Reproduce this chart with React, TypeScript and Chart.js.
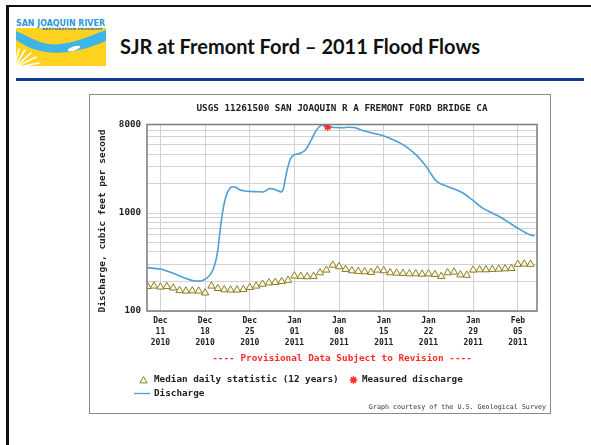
import React, { useEffect, useRef } from "react";
import { Chart, registerables } from "chart.js";

Chart.register(...registerables);

// Days are counted from Dec 11, 2010.
const xTickDays = [0, 7, 14, 21, 28, 35, 42, 49, 56];
const xTickLabels = [
  ["Dec", "11", "2010"],
  ["Dec", "18", "2010"],
  ["Dec", "25", "2010"],
  ["Jan", "01", "2011"],
  ["Jan", "08", "2011"],
  ["Jan", "15", "2011"],
  ["Jan", "22", "2011"],
  ["Jan", "29", "2011"],
  ["Feb", "05", "2011"],
];
const yGridValues = [100, 200, 300, 400, 500, 600, 700, 800, 900, 1000, 2000, 3000, 4000, 5000, 6000, 7000, 8000];
const yTickLabels = [100, 1000, 8000];

// Discharge, cubic feet per second
const dischargeDays = [
  -2.1, -1, 0, 1, 2, 3, 4, 5, 6, 6.6, 7.2, 7.8, 8.3, 8.7, 9.0, 9.3, 9.6, 9.9, 10.3, 10.8,
  11.3, 11.8, 12.4, 13.2, 14, 15, 16, 16.6, 17.1, 17.7, 18.3, 18.9, 19.3, 19.6, 20.0, 20.4,
  20.9, 21.5, 22.2, 22.9, 23.6, 24.2, 24.8, 25.4, 26.0, 26.5, 27.5, 28.5, 29.5, 30.3, 31.7,
  33, 34.9, 36.2, 37.5, 38.8, 40.1, 41, 41.7, 42.4, 43.0, 43.7, 44.5, 46, 47.4, 48.5, 49.5,
  50.5, 51.8, 53.1, 54.2, 55.2, 56.3, 57.3, 58.0, 58.6,
];
const dischargeCfs = [
  277, 272, 268, 256, 243, 228, 214, 205, 202, 205, 215, 235, 270, 330, 420, 620, 880, 1170, 1500, 1760,
  1850, 1830, 1730, 1680, 1660, 1650, 1640, 1700, 1780, 1760, 1700, 1640, 1800, 2300, 3000, 3600,
  3900, 4000, 4150, 4550, 5500, 6600, 7500, 7900, 7800, 7550, 7450, 7400, 7500, 7450, 6950,
  6600, 6150, 5700, 5200, 4600, 3900, 3350, 2950, 2500, 2200, 2020, 1920, 1760, 1600, 1420, 1260,
  1120, 1010, 920, 830, 755, 680, 625, 595, 585,
];

// Median daily statistic (12 years), one value per day
const medianDays = [
  -2, -1, 0, 1, 2, 3, 4, 5, 6, 7, 8, 9, 10, 11, 12, 13, 14, 15, 16, 17, 18, 19, 20,
  21, 22, 23, 24, 25, 26, 27, 28, 29, 30, 31, 32, 33, 34, 35, 36, 37, 38, 39, 40,
  41, 42, 43, 44, 45, 46, 47, 48, 49, 50, 51, 52, 53, 54, 55, 56, 57, 58,
];
const medianCfs = [
  178, 180, 176, 178, 172, 162, 160, 161, 160, 153, 180, 170, 165, 164, 164, 166, 174, 180, 188, 194, 196, 200, 206,
  228, 226, 224, 226, 246, 262, 294, 284, 266, 258, 254, 252, 248, 262, 258, 246, 244, 242, 240, 240,
  238, 240, 236, 226, 246, 250, 234, 232, 262, 264, 264, 266, 268, 270, 272, 300, 302, 300,
];

// Measured discharge
const measuredDays = [26.2];
const measuredCfs = [7600];

const MONO = '"DejaVu Sans Mono", "Liberation Mono", monospace';
const BLUE = "#4a9fd8";
const RED = "#ff2a2a";
const TRI_FILL = "#fffbe0";
const TRI_EDGE = "#8c7b2e";
const TRI_R = 4.2;

const graphTextPlugin = {
  id: "graphText",
  afterDraw(chart: any) {
    const { ctx, chartArea } = chart;
    ctx.save();
    // plot frame
    ctx.strokeStyle = "#7a7a7a";
    ctx.lineWidth = 1.5;
    ctx.strokeRect(chartArea.left, chartArea.top, chartArea.right - chartArea.left, chartArea.bottom - chartArea.top);

    const midX = (chartArea.left + chartArea.right) / 2;
    ctx.textBaseline = "middle";
    ctx.fillStyle = "#222";

    // heading
    ctx.font = `bold 9.3px ${MONO}`;
    ctx.textAlign = "center";
    ctx.fillText("USGS 11261500 SAN JOAQUIN R A FREMONT FORD BRIDGE CA", midX, 15);

    // y axis title
    ctx.save();
    ctx.translate(14, 127);
    ctx.rotate(-Math.PI / 2);
    ctx.font = `bold 9.5px ${MONO}`;
    ctx.fillText("Discharge, cubic feet per second", 0, 0);
    ctx.restore();

    // provisional note
    ctx.fillStyle = RED;
    ctx.font = `bold 9.4px ${MONO}`;
    ctx.fillText("---- Provisional Data Subject to Revision ----", midX, 264.5);

    // legend
    ctx.textAlign = "left";
    const ly1 = 286;
    const ly2 = 299.5;
    ctx.beginPath();
    const tx = 54.5;
    const ty = ly1 + 0.8;
    ctx.moveTo(tx, ty - TRI_R);
    ctx.lineTo(tx + TRI_R * 0.866, ty + TRI_R / 2);
    ctx.lineTo(tx - TRI_R * 0.866, ty + TRI_R / 2);
    ctx.closePath();
    ctx.fillStyle = TRI_FILL;
    ctx.fill();
    ctx.strokeStyle = TRI_EDGE;
    ctx.lineWidth = 1;
    ctx.stroke();

    ctx.fillStyle = "#222";
    ctx.font = `bold 9.3px ${MONO}`;
    ctx.fillText("Median daily statistic (12 years)", 65, ly1);

    // asterisk
    const ax = 264.5;
    ctx.strokeStyle = RED;
    ctx.lineWidth = 1.6;
    ctx.beginPath();
    for (let k = 0; k < 4; k++) {
      const a = (k * Math.PI) / 4;
      ctx.moveTo(ax - Math.cos(a) * 3.8, ly1 - Math.sin(a) * 3.8);
      ctx.lineTo(ax + Math.cos(a) * 3.8, ly1 + Math.sin(a) * 3.8);
    }
    ctx.stroke();
    ctx.fillStyle = "#222";
    ctx.fillText("Measured discharge", 273, ly1);

    ctx.strokeStyle = BLUE;
    ctx.lineWidth = 1.3;
    ctx.beginPath();
    ctx.moveTo(45, ly2);
    ctx.lineTo(61, ly2);
    ctx.stroke();
    ctx.fillText("Discharge", 65, ly2);

    // credit line
    ctx.textAlign = "right";
    ctx.fillStyle = "#333";
    ctx.font = `6.7px ${MONO}`;
    ctx.fillText("Graph courtesy of the U.S. Geological Survey", 457, 313);
    ctx.restore();
  },
};

function Logo() {
  return (
    <svg
      style={{ position: "absolute", left: 16, top: 18 }}
      width={90}
      height={48}
      viewBox="0 0 90 48"
    >
      <rect x={0} y={0} width={90} height={48} fill="#fff" />
      <rect x={0} y={10} width={90} height={38} fill="#ffd21f" />
      <text
        x={0}
        y={7.6}
        fontSize={8.6}
        fontWeight={900}
        fill="#2c96d8"
        fontFamily='"DejaVu Sans", sans-serif'
        textLength={89}
        lengthAdjust="spacingAndGlyphs"
      >
        SAN JOAQUIN RIVER
      </text>
      <text
        x={26}
        y={11.6}
        fontSize={3.2}
        fontWeight={700}
        fill="#2a6fb8"
        fontFamily='"DejaVu Sans", sans-serif'
        textLength={60}
        lengthAdjust="spacingAndGlyphs"
      >
        RESTORATION PROGRAM
      </text>
      <path
        d="M0 13 C 10 17, 20 24, 32 26 C 48 28, 64 22, 90 12 L 90 23 C 64 34, 46 36, 30 34 C 16 32, 8 27, 0 22 Z"
        fill="#3fb5e6"
      />
      <ellipse cx={58} cy={30.5} rx={6.5} ry={2} fill="#fff" transform="rotate(-18 58 30.5)" />
      <g stroke="#fff" strokeWidth={1.6} strokeLinecap="round">
        <line x1={-2} y1={50} x2={3} y2={31} />
        <line x1={-2} y1={50} x2={9} y2={32} />
        <line x1={-2} y1={50} x2={15} y2={35} />
        <line x1={-2} y1={50} x2={20} y2={39} />
        <line x1={-2} y1={50} x2={23} y2={45} />
      </g>
    </svg>
  );
}

export default function App() {
  const canvasRef = useRef<HTMLCanvasElement | null>(null);

  useEffect(() => {
    const canvas = canvasRef.current;
    if (!canvas) return;
    const chart = new Chart(canvas, {
      type: "line",
      data: {
        datasets: [
          {
            label: "Measured discharge",
            data: measuredDays.map((d, i) => ({ x: d, y: measuredCfs[i] })),
            showLine: false,
            pointStyle: "star",
            pointRadius: 4,
            pointBorderColor: RED,
            pointBackgroundColor: RED,
            pointBorderWidth: 1.6,
            order: 0,
          },
          {
            label: "Discharge",
            data: dischargeDays.map((d, i) => ({ x: d, y: dischargeCfs[i] })),
            borderColor: BLUE,
            borderWidth: 1.6,
            pointRadius: 0,
            cubicInterpolationMode: "monotone",
            fill: false,
            order: 1,
          },
          {
            label: "Median daily statistic (12 years)",
            data: medianDays.map((d, i) => ({ x: d, y: medianCfs[i] })),
            showLine: false,
            pointStyle: "triangle",
            pointRadius: TRI_R,
            pointBackgroundColor: TRI_FILL,
            pointBorderColor: TRI_EDGE,
            pointBorderWidth: 1,
            order: 2,
          },
        ],
      } as any,
      options: {
        animation: false,
        responsive: false,
        maintainAspectRatio: false,
        events: [],
        layout: { padding: { left: 0, right: 14, top: 30.5, bottom: 0 } },
        plugins: {
          legend: { display: false },
          tooltip: { enabled: false },
          title: { display: false },
        },
        scales: {
          x: {
            type: "linear",
            min: -2.1,
            max: 59,
            afterBuildTicks: (s: any) => {
              s.ticks = xTickDays.map((v) => ({ value: v }));
            },
            afterFit: (s: any) => {
              s.height = 103;
            },
            grid: { color: "#d2d2d2", lineWidth: 1, drawTicks: false },
            border: { display: false },
            ticks: {
              autoSkip: false,
              maxRotation: 0,
              padding: 5,
              color: "#222",
              font: { family: MONO, size: 8, weight: "bold", lineHeight: 1.35 },
              callback: (v: any) => {
                const i = xTickDays.indexOf(Number(v));
                return i >= 0 ? xTickLabels[i] : "";
              },
            },
          },
          y: {
            type: "logarithmic",
            min: 100,
            max: 8000,
            afterBuildTicks: (s: any) => {
              s.ticks = yGridValues.map((v) => ({ value: v }));
            },
            afterFit: (s: any) => {
              s.width = 58;
            },
            grid: { color: "#d2d2d2", lineWidth: 1, drawTicks: false },
            border: { display: false },
            ticks: {
              autoSkip: false,
              padding: 6,
              color: "#222",
              font: { family: MONO, size: 9.2, weight: "bold" },
              callback: (v: any) => (yTickLabels.includes(Number(v)) ? String(v) : ""),
            },
          },
        },
      } as any,
      plugins: [graphTextPlugin],
    });
    return () => chart.destroy();
  }, []);

  return (
    <div
      style={{
        position: "absolute",
        left: 0,
        top: 0,
        width: 591,
        height: 445,
        overflow: "hidden",
        background: "#fff",
      }}
    >
      {/* slide frame */}
      <div
        style={{
          position: "absolute",
          left: 6,
          top: 5,
          width: 700,
          height: 600,
          borderLeft: "3px solid #111",
          borderTop: "2.5px solid #111",
          boxSizing: "border-box",
        }}
      />
      <Logo />
      <div
        style={{
          position: "absolute",
          left: 120,
          top: 35.5,
          fontFamily: "Lato, 'Open Sans', sans-serif",
          fontWeight: 700,
          fontSize: 20,
          lineHeight: "20px",
          color: "#111",
          whiteSpace: "nowrap",
        }}
      >
        SJR at Fremont Ford – 2011 Flood Flows
      </div>
      <div
        style={{
          position: "absolute",
          left: 16,
          top: 78,
          width: 568,
          height: 2.5,
          background: "#123d8f",
        }}
      />
      <div
        style={{
          position: "absolute",
          left: 89,
          top: 94,
          width: 462,
          height: 320,
          background: "#fff",
        }}
      >
        <canvas ref={canvasRef} width={462} height={320} style={{ display: "block", width: 462, height: 320 }} />
        <div
          style={{
            position: "absolute",
            inset: 0,
            border: "1px solid #8a8a8a",
            pointerEvents: "none",
          }}
        />
      </div>
    </div>
  );
}
